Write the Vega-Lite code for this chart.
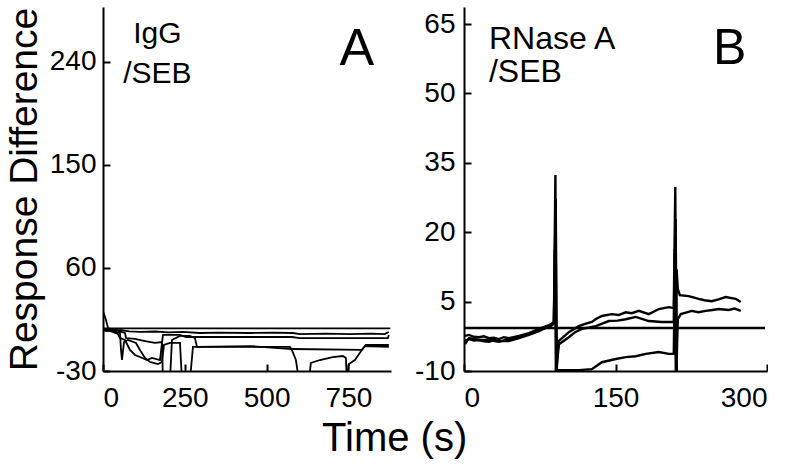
{
  "$schema": "https://vega.github.io/schema/vega-lite/v6.json",
  "padding": {"left": 5, "top": 7, "right": 0, "bottom": 0},
  "background": "white",
  "config": {
    "font": "Liberation Sans",
    "view": {"stroke": null},
    "axis": {"domainColor": "black", "domainWidth": 2, "tickColor": "black", "tickWidth": 2, "tickSize": -7, "labelFontSize": 28, "labelColor": "black", "grid": false, "titleColor": "black", "titleFontWeight": "normal", "labelFont": "Liberation Sans", "titleFont": "Liberation Sans", "labelExpr": "'' + datum.value"}
  },
  "title": {"text": "Time (s)", "orient": "bottom", "anchor": "middle", "fontSize": 40, "fontWeight": "normal", "color": "black", "offset": 7, "dx": 8, "font": "Liberation Sans"},
  "spacing": 23,
  "datasets": {
    "a": [
      {"t": 0, "r": 7.3, "s": "a1"}, {"t": 878, "r": 7.3, "s": "a1"},
      {"t": 0, "r": 22.4, "s": "a2"}, {"t": 9.2, "r": 14.6, "s": "a2"}, {"t": 15.3, "r": 7.6, "s": "a2"}, {"t": 30, "r": 5.5, "s": "a2"}, {"t": 51.9, "r": 5.8, "s": "a2"}, {"t": 80, "r": 4.6, "s": "a2"}, {"t": 113, "r": 4.1, "s": "a2"}, {"t": 160, "r": 4.5, "s": "a2"}, {"t": 200, "r": 3.8, "s": "a2"}, {"t": 244, "r": 4.1, "s": "a2"}, {"t": 296, "r": 3.2, "s": "a2"}, {"t": 350, "r": 3.6, "s": "a2"}, {"t": 449, "r": 3.2, "s": "a2"}, {"t": 520, "r": 3.5, "s": "a2"}, {"t": 580, "r": 3.2, "s": "a2"}, {"t": 602, "r": 2.3, "s": "a2"}, {"t": 680, "r": 2.7, "s": "a2"}, {"t": 754, "r": 2.3, "s": "a2"}, {"t": 820, "r": 2.6, "s": "a2"}, {"t": 861, "r": 2.3, "s": "a2"}, {"t": 873, "r": 4.1, "s": "a2"},
      {"t": 0, "r": 5.0, "s": "a3"}, {"t": 27.5, "r": 5.0, "s": "a3"}, {"t": 51.9, "r": 3.2, "s": "a3"}, {"t": 55.0, "r": -11.6, "s": "a3"}, {"t": 58.0, "r": -20.4, "s": "a3"}, {"t": 64.1, "r": -4.7, "s": "a3"}, {"t": 76.4, "r": -2.9, "s": "a3"}, {"t": 100.8, "r": -5.5, "s": "a3"}, {"t": 113.0, "r": -11.6, "s": "a3"}, {"t": 128.3, "r": -18.6, "s": "a3"}, {"t": 143.5, "r": -22.1, "s": "a3"}, {"t": 168.0, "r": -23.9, "s": "a3"}, {"t": 180.2, "r": -22.1, "s": "a3"}, {"t": 186.3, "r": -7.3, "s": "a3"}, {"t": 204.6, "r": -5.5, "s": "a3"}, {"t": 235.2, "r": -5.5, "s": "a3"}, {"t": 241.3, "r": -37.9, "s": "a3"}, {"t": 265.7, "r": -37.9, "s": "a3"}, {"t": 274.9, "r": -9.0, "s": "a3"}, {"t": 448.9, "r": -9.0, "s": "a3"}, {"t": 571.1, "r": -9.0, "s": "a3"}, {"t": 577.2, "r": -11.6, "s": "a3"}, {"t": 589.4, "r": -20.4, "s": "a3"}, {"t": 598.6, "r": -37.9, "s": "a3"}, {"t": 629.1, "r": -37.9, "s": "a3"}, {"t": 635.2, "r": -23.0, "s": "a3"}, {"t": 662.7, "r": -20.4, "s": "a3"}, {"t": 702.0, "r": -17.8, "s": "a3"}, {"t": 733.0, "r": -16.9, "s": "a3"}, {"t": 742.1, "r": -18.6, "s": "a3"}, {"t": 745.2, "r": -37.9, "s": "a3"}, {"t": 751.3, "r": -23.9, "s": "a3"}, {"t": 769.6, "r": -20.4, "s": "a3"}, {"t": 791.0, "r": -11.6, "s": "a3"}, {"t": 803.2, "r": -7.3, "s": "a3"}, {"t": 873.4, "r": -7.3, "s": "a3"},
      {"t": 0, "r": 5.8, "s": "a4"}, {"t": 36.6, "r": 5.8, "s": "a4"}, {"t": 67.2, "r": 3.2, "s": "a4"}, {"t": 70.2, "r": -1.2, "s": "a4"}, {"t": 97.7, "r": -2.0, "s": "a4"}, {"t": 128.3, "r": -3.8, "s": "a4"}, {"t": 158.8, "r": -5.5, "s": "a4"}, {"t": 180.2, "r": -4.7, "s": "a4"}, {"t": 183.2, "r": -37.9, "s": "a4"}, {"t": 204.6, "r": -37.9, "s": "a4"}, {"t": 210.7, "r": -2.9, "s": "a4"}, {"t": 235.2, "r": 0.6, "s": "a4"}, {"t": 265.7, "r": 0.6, "s": "a4"}, {"t": 281.0, "r": -1.2, "s": "a4"}, {"t": 287.1, "r": -9.0, "s": "a4"}, {"t": 448.9, "r": -8.2, "s": "a4"}, {"t": 577.2, "r": -10.8, "s": "a4"}, {"t": 791.0, "r": -11.6, "s": "a4"}, {"t": 800.1, "r": -8.2, "s": "a4"}, {"t": 873.4, "r": -9.0, "s": "a4"},
      {"t": 0, "r": 5.8, "s": "a5"}, {"t": 21.4, "r": 5.0, "s": "a5"}, {"t": 45.8, "r": 2.3, "s": "a5"}, {"t": 51.9, "r": -1.2, "s": "a5"}, {"t": 67.2, "r": -2.9, "s": "a5"}, {"t": 82.5, "r": -11.6, "s": "a5"}, {"t": 97.7, "r": -16.0, "s": "a5"}, {"t": 113.0, "r": -17.8, "s": "a5"}, {"t": 134.4, "r": -20.4, "s": "a5"}, {"t": 149.6, "r": -18.6, "s": "a5"}, {"t": 174.1, "r": -20.4, "s": "a5"}, {"t": 183.2, "r": 1.5, "s": "a5"}, {"t": 235.2, "r": 1.5, "s": "a5"}, {"t": 253.5, "r": -0.3, "s": "a5"}, {"t": 448.9, "r": -0.3, "s": "a5"}, {"t": 577.2, "r": -0.3, "s": "a5"}, {"t": 601.6, "r": -1.2, "s": "a5"}, {"t": 870.4, "r": -1.2, "s": "a5"}, {"t": 873.4, "r": 1.5, "s": "a5"}
    ],
    "b": [
      {"t": 0, "r": -0.7, "s": "b0"}, {"t": 298, "r": -0.7, "s": "b0"},
      {"t": 1.0, "r": -2.4, "s": "b1"}, {"t": 4.9, "r": -2.2, "s": "b1"}, {"t": 9.8, "r": -2.6, "s": "b1"}, {"t": 14.8, "r": -2.7, "s": "b1"}, {"t": 19.7, "r": -2.5, "s": "b1"}, {"t": 24.7, "r": -2.9, "s": "b1"}, {"t": 29.6, "r": -2.8, "s": "b1"}, {"t": 34.6, "r": -3.1, "s": "b1"}, {"t": 39.5, "r": -2.7, "s": "b1"}, {"t": 44.5, "r": -2.9, "s": "b1"}, {"t": 54.4, "r": -2.4, "s": "b1"}, {"t": 64.3, "r": -1.8, "s": "b1"}, {"t": 74.2, "r": -0.9, "s": "b1"}, {"t": 84.1, "r": -0.1, "s": "b1"}, {"t": 89.0, "r": 0.4, "s": "b1"}, {"t": 90.5, "r": 32.4, "s": "b1"}, {"t": 91.5, "r": -10.5, "s": "b1"}, {"t": 93.0, "r": -5.2, "s": "b1"}, {"t": 94.0, "r": -3.5, "s": "b1"}, {"t": 103.8, "r": -1.6, "s": "b1"}, {"t": 113.7, "r": -0.3, "s": "b1"}, {"t": 120.0, "r": 0.2, "s": "b1"}, {"t": 126.6, "r": 0.6, "s": "b1"}, {"t": 131.0, "r": 1.3, "s": "b1"}, {"t": 136.5, "r": 1.9, "s": "b1"}, {"t": 146.4, "r": 2.3, "s": "b1"}, {"t": 153.0, "r": 2.1, "s": "b1"}, {"t": 160.2, "r": 2.7, "s": "b1"}, {"t": 166.0, "r": 2.5, "s": "b1"}, {"t": 173.1, "r": 3.0, "s": "b1"}, {"t": 183.0, "r": 2.3, "s": "b1"}, {"t": 192.9, "r": 3.4, "s": "b1"}, {"t": 202.7, "r": 3.8, "s": "b1"}, {"t": 207.7, "r": 3.6, "s": "b1"}, {"t": 209.2, "r": 29.8, "s": "b1"}, {"t": 210.2, "r": -10.5, "s": "b1"}, {"t": 211.7, "r": 1.2, "s": "b1"}, {"t": 214.7, "r": 2.3, "s": "b1"}, {"t": 225.5, "r": 3.0, "s": "b1"}, {"t": 232.0, "r": 2.7, "s": "b1"}, {"t": 239.3, "r": 3.0, "s": "b1"}, {"t": 246.0, "r": 3.2, "s": "b1"}, {"t": 252.2, "r": 3.4, "s": "b1"}, {"t": 262.1, "r": 3.2, "s": "b1"}, {"t": 268.0, "r": 3.5, "s": "b1"}, {"t": 274.0, "r": 3.0, "s": "b1"},
      {"t": 1.0, "r": -3.5, "s": "b2"}, {"t": 4.9, "r": -3.1, "s": "b2"}, {"t": 9.8, "r": -3.4, "s": "b2"}, {"t": 14.8, "r": -3.3, "s": "b2"}, {"t": 19.7, "r": -3.6, "s": "b2"}, {"t": 24.7, "r": -3.7, "s": "b2"}, {"t": 29.6, "r": -3.3, "s": "b2"}, {"t": 34.6, "r": -3.5, "s": "b2"}, {"t": 44.5, "r": -3.5, "s": "b2"}, {"t": 54.4, "r": -2.9, "s": "b2"}, {"t": 64.3, "r": -2.2, "s": "b2"}, {"t": 74.2, "r": -1.4, "s": "b2"}, {"t": 84.1, "r": -0.3, "s": "b2"}, {"t": 89.0, "r": 0.6, "s": "b2"}, {"t": 90.0, "r": 16.4, "s": "b2"}, {"t": 91.0, "r": -10.5, "s": "b2"}, {"t": 93.0, "r": -6.3, "s": "b2"}, {"t": 94.0, "r": -4.2, "s": "b2"}, {"t": 103.8, "r": -2.7, "s": "b2"}, {"t": 110.0, "r": -1.6, "s": "b2"}, {"t": 116.7, "r": -0.9, "s": "b2"}, {"t": 124.0, "r": -0.6, "s": "b2"}, {"t": 130.5, "r": -0.3, "s": "b2"}, {"t": 143.4, "r": 0.8, "s": "b2"}, {"t": 152.0, "r": 0.9, "s": "b2"}, {"t": 160.2, "r": 1.2, "s": "b2"}, {"t": 170.1, "r": 1.7, "s": "b2"}, {"t": 183.0, "r": 0.8, "s": "b2"}, {"t": 195.8, "r": 0.6, "s": "b2"}, {"t": 207.7, "r": 0.6, "s": "b2"}, {"t": 208.7, "r": 16.4, "s": "b2"}, {"t": 209.7, "r": -10.5, "s": "b2"}, {"t": 210.5, "r": 12.0, "s": "b2"}, {"t": 211.7, "r": 7.7, "s": "b2"}, {"t": 213.7, "r": 6.4, "s": "b2"}, {"t": 222.5, "r": 6.2, "s": "b2"}, {"t": 232.4, "r": 5.6, "s": "b2"}, {"t": 238.0, "r": 5.3, "s": "b2"}, {"t": 245.3, "r": 5.1, "s": "b2"}, {"t": 252.0, "r": 5.5, "s": "b2"}, {"t": 259.1, "r": 6.0, "s": "b2"}, {"t": 269.0, "r": 5.6, "s": "b2"}, {"t": 274.0, "r": 4.9, "s": "b2"},
      {"t": 1.0, "r": -4.2, "s": "b3"}, {"t": 4.9, "r": -2.9, "s": "b3"}, {"t": 9.8, "r": -3.0, "s": "b3"}, {"t": 14.8, "r": -3.3, "s": "b3"}, {"t": 24.7, "r": -3.3, "s": "b3"}, {"t": 34.6, "r": -3.7, "s": "b3"}, {"t": 44.5, "r": -3.1, "s": "b3"}, {"t": 54.4, "r": -2.7, "s": "b3"}, {"t": 64.3, "r": -2.0, "s": "b3"}, {"t": 74.2, "r": -1.1, "s": "b3"}, {"t": 84.1, "r": -0.5, "s": "b3"}, {"t": 89.0, "r": 0.2, "s": "b3"}, {"t": 90.8, "r": 27.2, "s": "b3"}, {"t": 92.0, "r": -10.5, "s": "b3"}, {"t": 94.0, "r": -9.8, "s": "b3"}, {"t": 113.7, "r": -9.8, "s": "b3"}, {"t": 126.6, "r": -9.6, "s": "b3"}, {"t": 136.5, "r": -8.1, "s": "b3"}, {"t": 150.3, "r": -7.4, "s": "b3"}, {"t": 160.2, "r": -7.0, "s": "b3"}, {"t": 170.0, "r": -6.8, "s": "b3"}, {"t": 180.0, "r": -6.3, "s": "b3"}, {"t": 192.9, "r": -5.9, "s": "b3"}, {"t": 202.7, "r": -6.3, "s": "b3"}, {"t": 207.7, "r": -6.3, "s": "b3"}, {"t": 209.5, "r": 22.8, "s": "b3"}, {"t": 210.7, "r": -10.5, "s": "b3"}
    ]
  },
  "hconcat": [
    {
      "width": 288,
      "height": 364,
      "layer": [
        {
          "data": {"name": "a"},
          "mark": {"type": "line", "color": "black", "strokeWidth": 1.8, "clip": true},
          "encoding": {
            "x": {"field": "t", "type": "quantitative", "scale": {"domain": [0, 880], "nice": false, "zero": false}, "axis": {"title": null, "values": [0, 250, 500, 750], "labelPadding": 20}},
            "y": {"field": "r", "type": "quantitative", "scale": {"domain": [-30, 288], "nice": false, "zero": false}, "axis": {"title": "Response Difference", "titleFontSize": 39, "titlePadding": 5, "values": [-30, 60, 150, 240], "labelPadding": 14}},
            "detail": {"field": "s", "type": "nominal"}
          }
        },
        {
          "data": {"values": [{"lab": "IgG"}]},
          "mark": {"type": "text", "fontSize": 30, "align": "center", "baseline": "alphabetic", "color": "black"},
          "encoding": {"x": {"datum": 166, "type": "quantitative"}, "y": {"datum": 256.3, "type": "quantitative"}, "text": {"field": "lab"}}
        },
        {
          "data": {"values": [{"lab": "/SEB"}]},
          "mark": {"type": "text", "fontSize": 30, "align": "center", "baseline": "alphabetic", "color": "black"},
          "encoding": {"x": {"datum": 166, "type": "quantitative"}, "y": {"datum": 221.3, "type": "quantitative"}, "text": {"field": "lab"}}
        },
        {
          "data": {"values": [{"lab": "A"}]},
          "mark": {"type": "text", "fontSize": 52, "align": "center", "baseline": "alphabetic", "color": "black"},
          "encoding": {"x": {"datum": 776, "type": "quantitative"}, "y": {"datum": 237.3, "type": "quantitative"}, "text": {"field": "lab"}}
        }
      ]
    },
    {
      "width": 303,
      "height": 364,
      "layer": [
        {
          "data": {"name": "b"},
          "mark": {"type": "line", "color": "black", "strokeWidth": 2.4, "clip": true},
          "encoding": {
            "x": {"field": "t", "type": "quantitative", "scale": {"domain": [0, 300], "nice": false, "zero": false}, "axis": {"title": null, "values": [0, 150, 300], "labelPadding": 20}},
            "y": {"field": "r", "type": "quantitative", "scale": {"domain": [-10, 68.7], "nice": false, "zero": false}, "axis": {"title": null, "values": [-10, 5, 20, 35, 50, 65], "labelPadding": 16}},
            "detail": {"field": "s", "type": "nominal"}
          }
        },
        {
          "data": {"values": [{"lab": "RNase A"}]},
          "mark": {"type": "text", "fontSize": 32, "align": "left", "baseline": "alphabetic", "color": "black"},
          "encoding": {"x": {"datum": 24.7, "type": "quantitative"}, "y": {"datum": 59.6, "type": "quantitative"}, "text": {"field": "lab"}}
        },
        {
          "data": {"values": [{"lab": "/SEB"}]},
          "mark": {"type": "text", "fontSize": 32, "align": "left", "baseline": "alphabetic", "color": "black"},
          "encoding": {"x": {"datum": 24.7, "type": "quantitative"}, "y": {"datum": 52.4, "type": "quantitative"}, "text": {"field": "lab"}}
        },
        {
          "data": {"values": [{"lab": "B"}]},
          "mark": {"type": "text", "fontSize": 50, "align": "center", "baseline": "alphabetic", "color": "black"},
          "encoding": {"x": {"datum": 263, "type": "quantitative"}, "y": {"datum": 56.4, "type": "quantitative"}, "text": {"field": "lab"}}
        }
      ]
    }
  ]
}
